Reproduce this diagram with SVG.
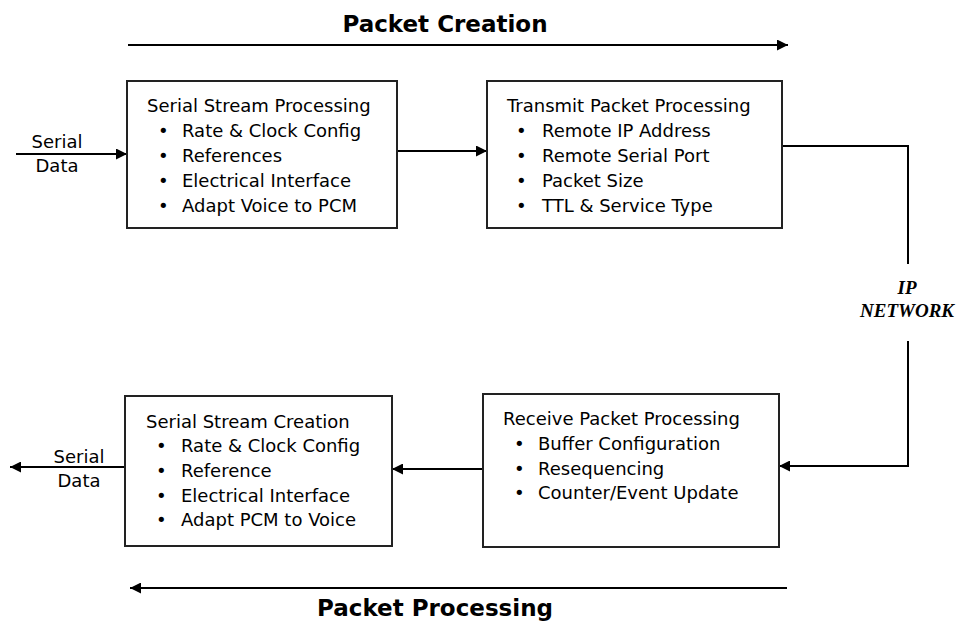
<svg xmlns="http://www.w3.org/2000/svg" width="957" height="624" viewBox="0 0 957 624">
<defs>
<marker id="ah" viewBox="0 0 10 10" refX="10" refY="5" markerWidth="11" markerHeight="11" markerUnits="userSpaceOnUse" orient="auto">
<path d="M0,0 L10,5 L0,10 Z" fill="#000"/>
</marker>
<style>
.box{fill:#fff;stroke:#222;stroke-width:2}
.ln{fill:none;stroke:#000;stroke-width:2}
.t{font-family:"DejaVu Sans",Verdana,sans-serif;font-size:18px;fill:#000}
.title{font-family:"DejaVu Sans",Verdana,sans-serif;font-size:23px;font-weight:bold;fill:#000}
.ip{font-family:"Liberation Serif","Times New Roman",serif;font-size:19px;font-weight:bold;font-style:italic;fill:#000}
</style>
</defs>
<rect width="957" height="624" fill="#fff"/>
<g id="titles">
<text class="title" x="445" y="32" text-anchor="middle">Packet Creation</text>
<text class="title" x="435" y="616" text-anchor="middle">Packet Processing</text>
<text class="t" x="57" y="148" text-anchor="middle">Serial</text>
<text class="t" x="57" y="172" text-anchor="middle">Data</text>
<text class="t" x="79" y="463" text-anchor="middle">Serial</text>
<text class="t" x="79" y="487" text-anchor="middle">Data</text>
<text class="ip" x="907" y="294" text-anchor="middle">IP</text>
<text class="ip" x="907" y="317" text-anchor="middle">NETWORK</text>
</g>
<g id="connectors">
<line class="ln" x1="128" y1="45" x2="788" y2="45" marker-end="url(#ah)"/>
<line class="ln" x1="787" y1="588" x2="130" y2="588" marker-end="url(#ah)"/>
<line class="ln" x1="16" y1="154" x2="127" y2="154" marker-end="url(#ah)"/>
<line class="ln" x1="397" y1="151" x2="487" y2="151" marker-end="url(#ah)"/>
<polyline class="ln" points="782,146 908,146 908,264"/>
<polyline class="ln" points="908,341 908,466 779,466" marker-end="url(#ah)"/>
<line class="ln" x1="483" y1="469" x2="392" y2="469" marker-end="url(#ah)"/>
<line class="ln" x1="125" y1="467" x2="10" y2="467" marker-end="url(#ah)"/>
</g>
<g id="ssp">
<rect class="box" x="127" y="81" width="270" height="147"/>
<text class="t" x="147" y="112">Serial Stream Processing</text>
<text class="t" y="137"><tspan x="158">•</tspan><tspan x="182">Rate &amp; Clock Config</tspan></text>
<text class="t" y="162"><tspan x="158">•</tspan><tspan x="182">References</tspan></text>
<text class="t" y="187"><tspan x="158">•</tspan><tspan x="182">Electrical Interface</tspan></text>
<text class="t" y="212"><tspan x="158">•</tspan><tspan x="182">Adapt Voice to PCM</tspan></text>
</g>
<g id="tpp">
<rect class="box" x="487" y="81" width="295" height="147"/>
<text class="t" x="507" y="112">Transmit Packet Processing</text>
<text class="t" y="137"><tspan x="516">•</tspan><tspan x="542">Remote IP Address</tspan></text>
<text class="t" y="162"><tspan x="516">•</tspan><tspan x="542">Remote Serial Port</tspan></text>
<text class="t" y="187"><tspan x="516">•</tspan><tspan x="542">Packet Size</tspan></text>
<text class="t" y="212"><tspan x="516">•</tspan><tspan x="542">TTL &amp; Service Type</tspan></text>
</g>
<g id="rpp">
<rect class="box" x="483" y="394" width="296" height="153"/>
<text class="t" x="503" y="425">Receive Packet Processing</text>
<text class="t" y="450"><tspan x="514">•</tspan><tspan x="538">Buffer Configuration</tspan></text>
<text class="t" y="475"><tspan x="514">•</tspan><tspan x="538">Resequencing</tspan></text>
<text class="t" y="499"><tspan x="514">•</tspan><tspan x="538">Counter/Event Update</tspan></text>
</g>
<g id="ssc">
<rect class="box" x="125" y="396" width="267" height="150"/>
<text class="t" x="146" y="428">Serial Stream Creation</text>
<text class="t" y="452"><tspan x="156">•</tspan><tspan x="181">Rate &amp; Clock Config</tspan></text>
<text class="t" y="477"><tspan x="156">•</tspan><tspan x="181">Reference</tspan></text>
<text class="t" y="502"><tspan x="156">•</tspan><tspan x="181">Electrical Interface</tspan></text>
<text class="t" y="526"><tspan x="156">•</tspan><tspan x="181">Adapt PCM to Voice</tspan></text>
</g>
</svg>
